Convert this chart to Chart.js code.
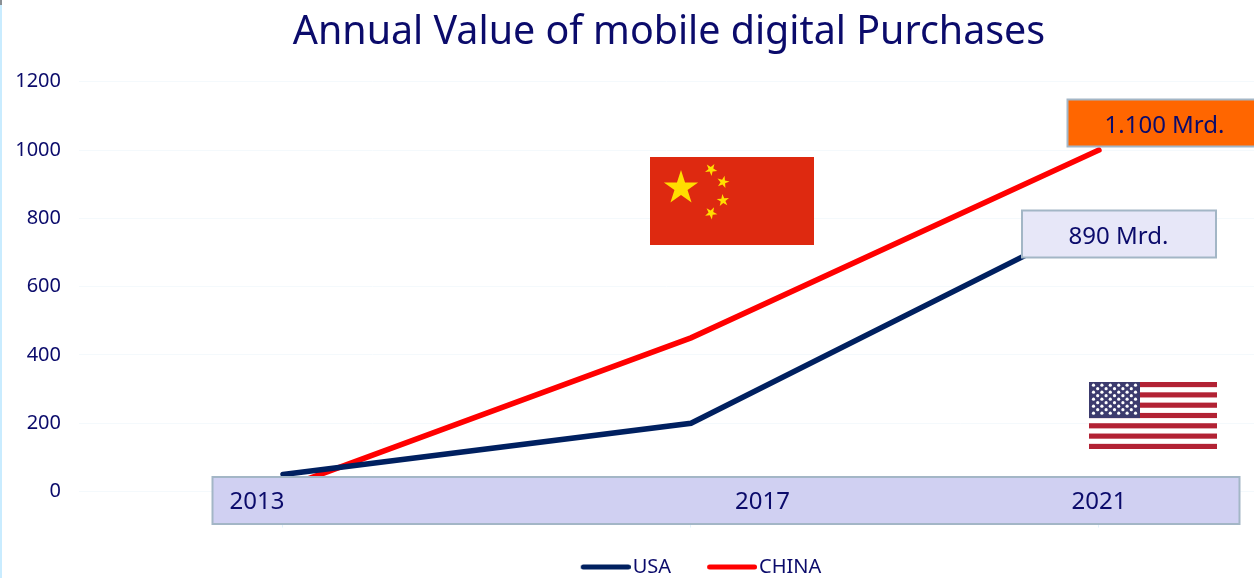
<!DOCTYPE html>
<html><head><meta charset="utf-8">
<style>html,body{margin:0;padding:0;background:#fff;overflow:hidden}canvas{display:block}</style>
<script src="https://cdn.jsdelivr.net/npm/chart.js@4"></script>
</head><body><canvas id="c" width="1254" height="578"></canvas>
<script>
const titleText = 'Annual Value of mobile digital Purchases';
const years = [2013, 2017, 2021];
const usaValues = [50, 200, 800];
const chinaValues = [10, 450, 1000];
const yTicks = [0, 200, 400, 600, 800, 1000, 1200];
const usaLabel = 'USA';
const chinaLabel = 'CHINA';
const chinaNote = '1.100 Mrd.';
const usaNote = '890 Mrd.';
const NAVY = '#0b0b6b', FONT = '"Noto Sans",sans-serif';
const USA_COL = '#002060', CHINA_COL = '#ff0000';

function legendLine(col){
  const c = document.createElement('canvas'); c.width = 58; c.height = 6;
  const x = c.getContext('2d'); x.strokeStyle = col; x.lineWidth = 5; x.lineCap = 'round';
  x.beginPath(); x.moveTo(10.5,3); x.lineTo(55.5,3); x.stroke();
  return c;
}
function star(ctx,cx,cy,r,rot,col){
  ctx.fillStyle = col; ctx.beginPath();
  for(let i=0;i<10;i++){
    const a = rot - Math.PI/2 + i*Math.PI/5, q = i%2 ? r*0.382 : r;
    ctx.lineTo(cx+q*Math.cos(a), cy+q*Math.sin(a));
  }
  ctx.closePath(); ctx.fill();
}
function box(ctx,x,y,w,h,fill,text,tx){
  ctx.fillStyle = fill; ctx.strokeStyle = '#a3b6c6'; ctx.lineWidth = 2;
  ctx.fillRect(x,y,w,h); ctx.strokeRect(x,y,w,h);
  if(text){ ctx.fillStyle = NAVY; ctx.font = '24px '+FONT; ctx.textAlign='center'; ctx.textBaseline='middle';
    ctx.fillText(text,tx,y+h/2+3); }
}
function chinaFlag(ctx){
  ctx.fillStyle = '#de2910'; ctx.fillRect(650,157,164,88);
  star(ctx,681,188,18,0,'#ffde00');
  star(ctx,711,169.5,6.5,0.55,'#ffde00');
  star(ctx,723,182,6.5,0.25,'#ffde00');
  star(ctx,723,200.5,6.5,-0.1,'#ffde00');
  star(ctx,711,213,6.5,0.5,'#ffde00');
}
function usFlag(ctx){
  const x=1089,y=382,w=128,h=67,s=h/13;
  ctx.fillStyle='#ffffff'; ctx.fillRect(x,y,w,h);
  ctx.fillStyle='#b22234';
  for(let i=0;i<13;i+=2) ctx.fillRect(x,y+i*s,w,s);
  ctx.fillStyle='#3c3b6e'; ctx.fillRect(x,y,51,s*7);
  ctx.fillStyle='#ffffff';
  for(let r=0;r<9;r++){
    const n = r%2?5:6;
    for(let i=0;i<n;i++){
      ctx.beginPath();
      ctx.arc(x+4.5+(r%2?4.2:0)+i*8.4, y+3.2+r*3.5, 1.6, 0, 7);
      ctx.fill();
    }
  }
}
const overlays = {
  id:'overlays',
  afterLayout(chart){
    const shift = (o,d)=>{ o.left+=d; o.right+=d; };
    shift(chart.titleBlock,42);
    chart.titleBlock.top+=3; chart.titleBlock.bottom+=3;
    shift(chart.legend,74);
    chart.legend.top+=9; chart.legend.bottom+=9;
  },
  beforeDraw(chart){
    const ctx = chart.ctx;
    ctx.save(); ctx.fillStyle='#c9ecff'; ctx.fillRect(0,0,2,578);
    ctx.fillStyle='#8a8f94'; ctx.fillRect(0,0,2,5); ctx.restore();
  },
  afterDatasetsDraw(chart){
    const ctx = chart.ctx;
    ctx.save();
    box(ctx,212.5,477,1027,47,'#d0d0f2');
    ctx.fillStyle=NAVY; ctx.font='24px '+FONT; ctx.textAlign='center'; ctx.textBaseline='middle';
    ctx.fillText(String(years[0]),257,502);
    ctx.fillText(String(years[1]),762.5,502);
    ctx.fillText(String(years[2]),1099,502);
    box(ctx,1067.5,99.5,190,47,'#ff6600',chinaNote,1164.5);
    box(ctx,1022,210.5,194,47,'#e7e7f8',usaNote,1118.5);
    chinaFlag(ctx); usFlag(ctx);
    ctx.restore();
  }
};
new Chart(document.getElementById('c'),{
  type:'line',
  data:{datasets:[
    {label:usaLabel,data:years.map((y,i)=>({x:y,y:usaValues[i]})),borderColor:USA_COL,backgroundColor:USA_COL,borderWidth:5.5,pointRadius:0,borderCapStyle:'round',tension:0,clip:false},
    {label:chinaLabel,data:years.map((y,i)=>({x:y,y:chinaValues[i]})),borderColor:CHINA_COL,backgroundColor:CHINA_COL,borderWidth:5.5,pointRadius:0,borderCapStyle:'round',tension:0,clip:false}
  ]},
  options:{
    responsive:false,animation:false,
    layout:{padding:0},
    plugins:{
      tooltip:{enabled:false},
      title:{display:true,text:titleText,color:NAVY,font:{family:FONT,size:39.4,weight:'normal'},padding:{top:6,bottom:28.5}},
      legend:{position:'bottom',labels:{
        usePointStyle:true,pointStyleWidth:42,padding:36,color:NAVY,font:{family:FONT,size:20},
        generateLabels(chart){
          return chart.data.datasets.map((d,i)=>({text:d.label,datasetIndex:i,pointStyle:legendLine(d.borderColor),fontColor:NAVY,lineWidth:0,strokeStyle:'transparent',fillStyle:d.borderColor}));
        }
      }}
    },
    scales:{
      x:{type:'linear',min:2011,max:2022.52,
        afterBuildTicks(s){ s.ticks = years.map(v=>({value:v})); },
        afterFit(s){ s.height = 20.5; },
        border:{display:false},
        grid:{drawOnChartArea:false,drawTicks:true,tickLength:36,color:'#e3f2fb'},
        ticks:{display:false}},
      y:{min:0,max:1200,
        afterBuildTicks(s){ s.ticks = yTicks.map(v=>({value:v})); },
        afterFit(s){ s.width = 79; },
        border:{display:false},
        grid:{color:'#f4f9fc',lineWidth:1,drawTicks:false},
        ticks:{color:NAVY,font:{family:FONT,size:20},padding:18,callback:v=>String(v)}}
    }
  },
  plugins:[overlays]
});
</script></body></html>
